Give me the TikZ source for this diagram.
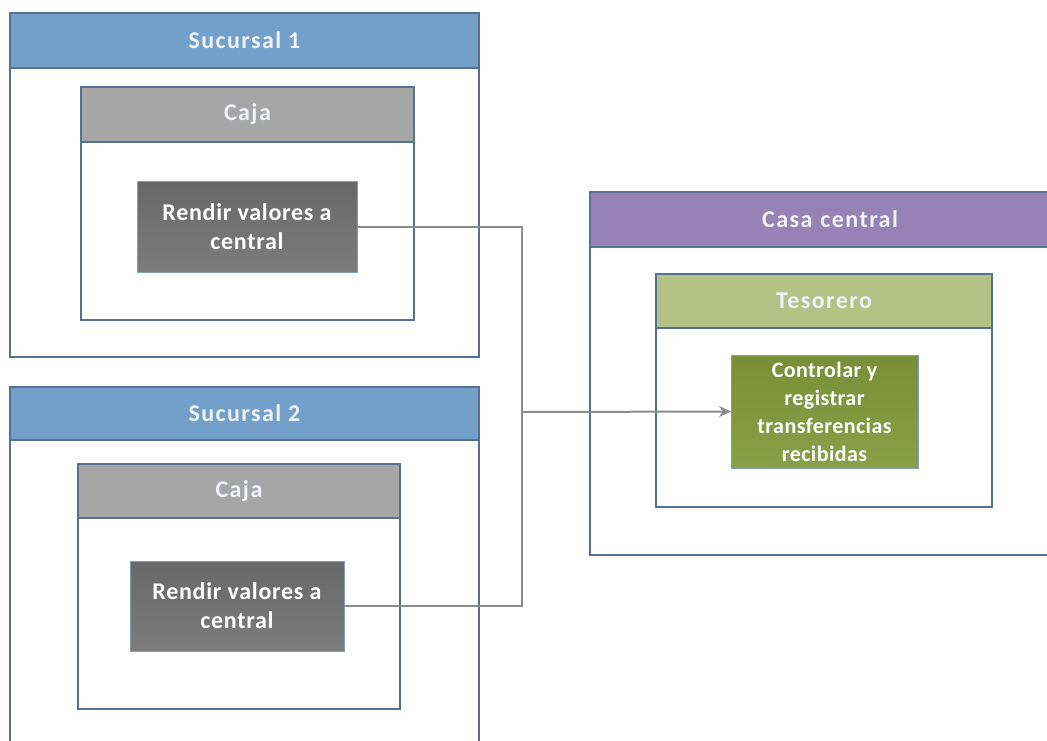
\documentclass[tikz,border=0pt]{standalone}
\usepackage{fontspec}
\setmainfont{Carlito}
\newfontfamily\hdrfont{Carlito}[LetterSpace=6]
\newfontfamily\taskfont{Carlito}[LetterSpace=3]
\newfontfamily\greenfont{Carlito}[LetterSpace=2]
\usetikzlibrary{arrows.meta}
\definecolor{frameC}{RGB}{84,112,146}
\definecolor{blueH}{RGB}{114,160,203}
\definecolor{purpleH}{RGB}{150,130,181}
\definecolor{greyH}{RGB}{166,166,166}
\definecolor{greenH}{RGB}{180,194,134}
\definecolor{darkT}{RGB}{104,104,104}
\definecolor{darkB}{RGB}{124,124,124}
\definecolor{greenT}{RGB}{120,143,56}
\definecolor{greenB}{RGB}{136,160,72}
\definecolor{connC}{RGB}{140,140,140}
\definecolor{hdrText}{RGB}{240,244,250}
\tikzset{
  frame/.style={draw=frameC, line width=1.6pt, fill=white, anchor=north west,
    inner sep=0pt, outer sep=0pt},
  hdr/.style={frame, text=hdrText, font=\hdrfont\bfseries\fontsize{24}{28}\selectfont},
  task/.style={draw=frameC!70, line width=1pt, anchor=north west, inner sep=0pt,
    outer sep=0pt, text=white, align=center,
    font=\taskfont\bfseries\fontsize{24}{29}\selectfont},
  conn/.style={draw=connC, line width=2pt},
}
\begin{document}
\begin{tikzpicture}[x=1pt,y=-1pt]
\useasboundingbox (0,0) rectangle (1047,740);
\clip (0,0) rectangle (1047,740);
% Sucursal 1
\node[frame, minimum width=469pt, minimum height=344pt] (s1) at (10,13) {};
\node[hdr, fill=blueH, minimum width=469pt, minimum height=55pt] (s1h) at (10,13) {Sucursal 1};
\node[frame, minimum width=333pt, minimum height=233pt] (c1) at (81,87) {};
\node[hdr, fill=greyH, minimum width=333pt, minimum height=55pt] (c1h) at (81,87) {Caja};
\node[task, top color=darkT, bottom color=darkB, minimum width=220pt, minimum height=91pt] (t1) at (137,181) {Rendir valores a\\central};
% Sucursal 2
\node[frame, minimum width=469pt, minimum height=380pt] (s2) at (10,387) {};
\node[hdr, fill=blueH, minimum width=469pt, minimum height=53pt] (s2h) at (10,387) {Sucursal 2};
\node[frame, minimum width=322pt, minimum height=245pt] (c2) at (78,464) {};
\node[hdr, fill=greyH, minimum width=322pt, minimum height=54pt] (c2h) at (78,464) {Caja};
\node[task, top color=darkT, bottom color=darkB, minimum width=214pt, minimum height=90pt] (t2) at (130,561) {Rendir valores a\\central};
% Casa central
\node[frame, minimum width=480pt, minimum height=363pt] (cc) at (590,192) {};
\node[hdr, fill=purpleH, minimum width=480pt, minimum height=55pt, text width=457pt, align=center] (cch) at (590,192) {Casa central};
\node[frame, minimum width=336pt, minimum height=233pt] (tes) at (656,274) {};
\node[hdr, fill=greenH, minimum width=336pt, minimum height=54pt] (tesh) at (656,274) {Tesorero};
\node[task, top color=greenT, bottom color=greenB, minimum width=187pt, minimum height=113pt,
  font=\greenfont\bfseries\fontsize{22}{28}\selectfont] (g) at (731,355) {Controlar y\\registrar\\transferencias\\recibidas};
% connectors
\coordinate (j) at (522,412);
\draw[conn] (t1.east) -| (j);
\draw[conn] (t2.east) -| (j);
\draw[conn, -{Stealth[length=12pt,width=11pt]}] (j) -- (g.west);
\end{tikzpicture}
\end{document}
